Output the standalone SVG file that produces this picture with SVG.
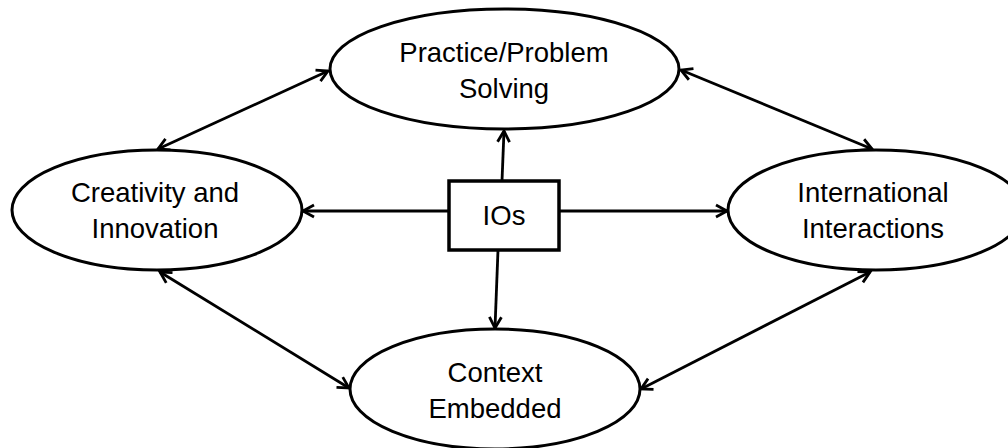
<svg xmlns="http://www.w3.org/2000/svg" width="1008" height="448" viewBox="0 0 1008 448">
  <style>
    .node { fill: #ffffff; stroke: #000000; stroke-width: 3; }
    .box { fill: #ffffff; stroke: #000000; stroke-width: 3.5; }
    .label { font-family: "Liberation Sans", Arial, sans-serif; font-size: 27.5px; fill: #000000; text-anchor: middle; }
    .conn { stroke: #000000; stroke-width: 2.8; fill: none; marker-end: url(#arrow); }
    .both { marker-start: url(#arrow); }
  </style>
  <defs>
    <marker id="arrow" markerUnits="userSpaceOnUse" markerWidth="20" markerHeight="20" refX="0" refY="0" viewBox="-14 -10 20 20" orient="auto-start-reverse" overflow="visible">
      <path d="M -11,-6 L 0,0 L -11,6" fill="none" stroke="#000000" stroke-width="2.8" stroke-linejoin="miter" stroke-linecap="butt"/>
    </marker>
  </defs>
  <rect x="0" y="0" width="1008" height="448" fill="#ffffff"/>

  <g id="connectors">
    <line class="conn both" x1="158" y1="149" x2="328" y2="71"/>
    <line class="conn both" x1="681" y1="70" x2="872" y2="149"/>
    <line class="conn both" x1="160" y1="272" x2="349" y2="388"/>
    <line class="conn both" x1="641" y1="389" x2="870" y2="272"/>
    <line class="conn" x1="502" y1="181" x2="504" y2="131"/>
    <line class="conn" x1="449" y1="211" x2="303" y2="211"/>
    <line class="conn" x1="559" y1="211" x2="727" y2="211"/>
    <line class="conn" x1="498" y1="250" x2="495" y2="328"/>
  </g>

  <g id="node-practice">
    <ellipse class="node" cx="504.5" cy="69" rx="174.5" ry="60"/>
    <text class="label" x="504" y="62">Practice/Problem</text>
    <text class="label" x="504" y="98">Solving</text>
  </g>

  <g id="node-creativity">
    <ellipse class="node" cx="157" cy="210" rx="145" ry="60"/>
    <text class="label" x="155" y="202">Creativity and</text>
    <text class="label" x="155" y="238">Innovation</text>
  </g>

  <g id="node-international">
    <ellipse class="node" cx="876" cy="210" rx="148" ry="60"/>
    <text class="label" x="873" y="202">International</text>
    <text class="label" x="873" y="238">Interactions</text>
  </g>

  <g id="node-context">
    <ellipse class="node" cx="495" cy="389" rx="145" ry="60"/>
    <text class="label" x="495" y="382">Context</text>
    <text class="label" x="495" y="418">Embedded</text>
  </g>

  <g id="node-ios">
    <rect class="box" x="449" y="181" width="110" height="69"/>
    <text class="label" x="504" y="225">IOs</text>
  </g>
</svg>
